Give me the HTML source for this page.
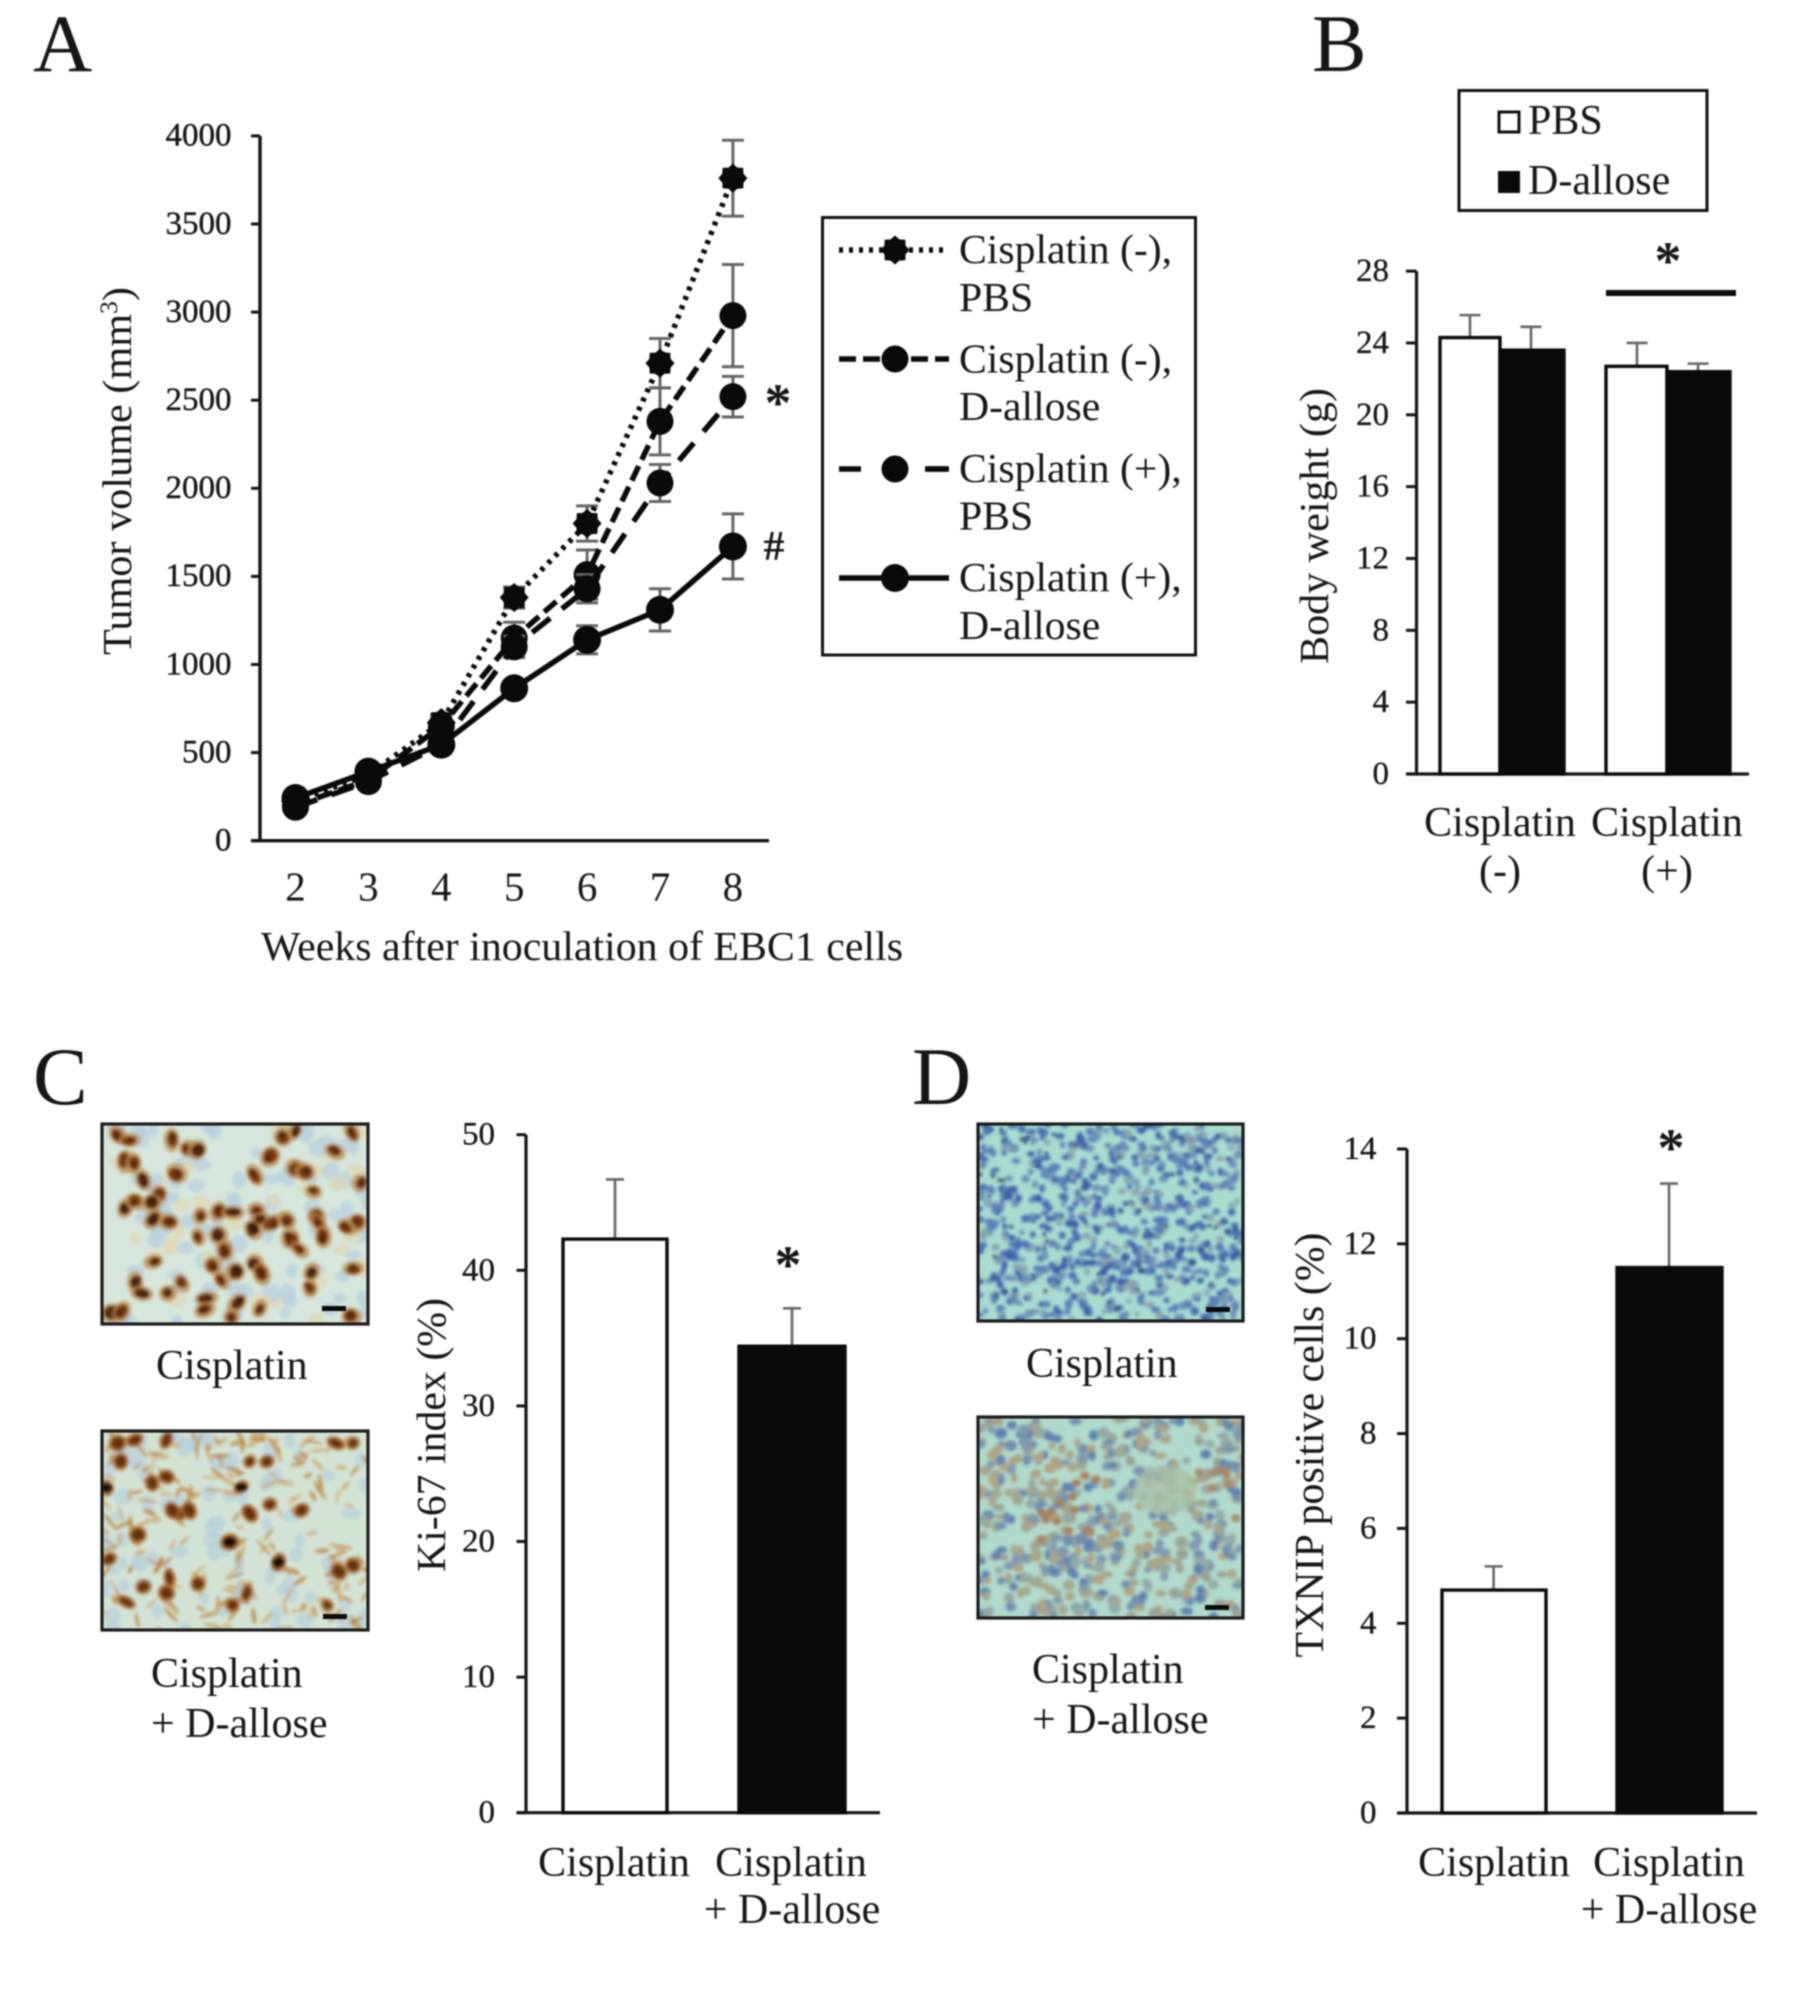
<!DOCTYPE html>
<html lang="en">
<head>
<meta charset="utf-8">
<title>Tumor volume, body weight, Ki-67 and TXNIP figure</title>
<style>
html,body{margin:0;padding:0;background:#fff;}
#figure{display:block;filter:blur(0.7px);font-family:"Liberation Serif",serif;fill:#161616;}
</style>
</head>
<body>
<svg id="figure" xmlns="http://www.w3.org/2000/svg" width="1809" height="1998" viewBox="0 0 1809 1998">
<defs>
<filter id="soft" x="-5%" y="-5%" width="110%" height="110%"><feGaussianBlur stdDeviation="1.7"/></filter>
<clipPath id="clip-c1"><rect x="102" y="1124" width="266" height="200"/></clipPath>
<clipPath id="clip-c2"><rect x="102" y="1431" width="266" height="199"/></clipPath>
<clipPath id="clip-d1"><rect x="978" y="1124" width="265" height="197"/></clipPath>
<clipPath id="clip-d2"><rect x="978" y="1417" width="265" height="201"/></clipPath>
</defs>

<!-- Panel letters -->
<text x="33" y="71" font-size="82">A</text>
<text x="1312" y="71" font-size="82">B</text>
<text x="33" y="1104" font-size="82">C</text>
<text x="912" y="1104" font-size="82">D</text>

<!-- Panel A -->
<g id="panel-a"></g>
<text transform="translate(131 471) rotate(-90)" text-anchor="middle" font-size="41" textLength="368" lengthAdjust="spacingAndGlyphs">Tumor volume (mm<tspan font-size="25" dy="-14">3</tspan><tspan dy="14">)</tspan></text>
<text x="261" y="960" font-size="41.5" textLength="642" lengthAdjust="spacingAndGlyphs">Weeks after inoculation of EBC1 cells</text>
<text x="778" y="421" text-anchor="middle" font-size="54" font-weight="bold">*</text>
<text x="774" y="560" text-anchor="middle" font-size="42" font-weight="bold">#</text>

<!-- Legend A -->
<g>
<rect x="822.5" y="217.5" width="373" height="437.5" fill="#fff" stroke="#111" stroke-width="3"/>
<g id="legend-a-keys"></g>
<g font-size="41.7">
<text x="959" y="263">Cisplatin (-),</text>
<text x="959" y="311">PBS</text>
<text x="959" y="372.5">Cisplatin (-),</text>
<text x="959" y="420">D-allose</text>
<text x="959" y="482">Cisplatin (+),</text>
<text x="959" y="529.5">PBS</text>
<text x="959" y="591">Cisplatin (+),</text>
<text x="959" y="639">D-allose</text>
</g>
</g>

<!-- Panel B -->
<g>
<rect x="1459" y="90.5" width="248" height="120" fill="#fff" stroke="#111" stroke-width="3"/>
<rect x="1499" y="112" width="20" height="20" fill="#fff" stroke="#111" stroke-width="3"/>
<rect x="1498" y="171" width="22" height="22" fill="#0a0a0a"/>
<text x="1528" y="134" font-size="42">PBS</text>
<text x="1528" y="194" font-size="42">D-allose</text>
</g>
<g id="panel-b"></g>
<text transform="translate(1328 526) rotate(-90)" text-anchor="middle" font-size="41.5" textLength="276" lengthAdjust="spacingAndGlyphs">Body weight (g)</text>
<rect x="1606" y="290" width="130" height="6" fill="#0a0a0a"/>
<text x="1668" y="279" text-anchor="middle" font-size="54" font-weight="bold">*</text>
<g font-size="42" text-anchor="middle">
<text x="1500" y="836">Cisplatin</text>
<text x="1500" y="884.5">(-)</text>
<text x="1667" y="836">Cisplatin</text>
<text x="1667" y="884.5">(+)</text>
</g>

<!-- Panel C micrographs -->
<g id="img-c1"></g>
<g id="img-c2"></g>
<text x="156" y="1379" font-size="42">Cisplatin</text>
<text x="151" y="1687" font-size="42">Cisplatin</text>
<text x="151" y="1737" font-size="42">+ D-allose</text>

<!-- Panel C chart -->
<g id="panel-c"></g>
<text transform="translate(445 1435) rotate(-90)" text-anchor="middle" font-size="41.5" textLength="274" lengthAdjust="spacingAndGlyphs">Ki-67 index (%)</text>
<text x="788" y="1283" text-anchor="middle" font-size="54" font-weight="bold">*</text>
<g font-size="42" text-anchor="middle">
<text x="614" y="1876">Cisplatin</text>
<text x="791" y="1876">Cisplatin</text>
<text x="792" y="1923">+ D-allose</text>
</g>

<!-- Panel D micrographs -->
<g id="img-d1"></g>
<g id="img-d2"></g>
<text x="1026" y="1377" font-size="42">Cisplatin</text>
<text x="1032" y="1683" font-size="42">Cisplatin</text>
<text x="1032" y="1733" font-size="42">+ D-allose</text>

<!-- Panel D chart -->
<g id="panel-d"></g>
<text transform="translate(1323 1445) rotate(-90)" text-anchor="middle" font-size="41.5" textLength="425" lengthAdjust="spacingAndGlyphs">TXNIP positive cells (%)</text>
<text x="1671" y="1166" text-anchor="middle" font-size="54" font-weight="bold">*</text>
<g font-size="42" text-anchor="middle">
<text x="1494" y="1876">Cisplatin</text>
<text x="1669" y="1876">Cisplatin</text>
<text x="1669" y="1923">+ D-allose</text>
</g>
</svg>

<script>
// ---------- Panel A data ----------
var weeks = [2, 3, 4, 5, 6, 7, 8];
var volumeTicks = [0, 500, 1000, 1500, 2000, 2500, 3000, 3500, 4000];
var cisMinusPbs = [225, 375, 670, 1380, 1800, 2710, 3760];
var cisMinusPbsErr = [20, 30, 45, 60, 100, 140, 215];
var cisMinusAllose = [200, 345, 650, 1150, 1510, 2380, 2980];
var cisMinusAlloseErr = [20, 30, 50, 90, 140, 190, 290];
var cisPlusPbs = [190, 335, 545, 1100, 1430, 2030, 2520];
var cisPlusPbsErr = [20, 25, 40, 60, 80, 105, 115];
var cisPlusAllose = [242, 392, 545, 865, 1140, 1310, 1670];
var cisPlusAlloseErr = [20, 25, 35, 40, 80, 120, 185];

// ---------- Panel B data ----------
var weightTicks = [0, 4, 8, 12, 16, 20, 24, 28];
var weightValues = [24.3, 23.6, 22.7, 22.4];
var weightErrors = [1.25, 1.3, 1.3, 0.45];

// ---------- Panel C data ----------
var ki67Ticks = [0, 10, 20, 30, 40, 50];
var ki67Values = [42.3, 34.4];
var ki67Errors = [4.4, 2.8];

// ---------- Panel D data ----------
var txnipTicks = [0, 2, 4, 6, 8, 10, 12, 14];
var txnipValues = [4.7, 11.5];
var txnipErrors = [0.5, 1.77];

var SVGNS = 'http://www.w3.org/2000/svg';
function mk(parent, tag) {
  var el = document.createElementNS(SVGNS, tag);
  parent.appendChild(el);
  return el;
}
function seg(parent, x1, y1, x2, y2, color, width, dash) {
  var l = mk(parent, 'line');
  l.setAttribute('x1', x1);
  l.setAttribute('y1', y1);
  l.setAttribute('x2', x2);
  l.setAttribute('y2', y2);
  l.setAttribute('stroke', color);
  l.setAttribute('stroke-width', width);
  if (dash) l.setAttribute('stroke-dasharray', dash);
  return l;
}
function label(parent, x, y, str, size, anchor) {
  var t = mk(parent, 'text');
  t.setAttribute('x', x);
  t.setAttribute('y', y);
  t.setAttribute('font-size', size);
  t.setAttribute('text-anchor', anchor);
  t.textContent = str;
  return t;
}
var AXIS = '#141414', ERR = '#666', INK = '#0a0a0a';

// ---------- Panel A axes ----------
function xA(w) { return 295.5 + (w - 2) * 72.9; }
function yA(v) { return 840.7 - v * 0.1762; }

var pa = document.getElementById('panel-a');
var axisAY = seg(pa, 260, yA(4000), 260, 840.7, AXIS, 3.4);


var axisAX = seg(pa, 251, 840.7, 769, 840.7, AXIS, 3.4);


volumeTicks.forEach(function (v) {
  var tick = seg(pa, 251, yA(v), 260, yA(v), AXIS, 3);
  
  
  var tl = label(pa, 231.5, yA(v) + 9.8, String(v), 33, 'end');
  tl.setAttribute('stroke', '#161616');
  tl.setAttribute('stroke-width', '0.4');
  
  
});
weeks.forEach(function (w) {
  var tl = label(pa, xA(w), 900.5, String(w), 41, 'middle');
  
  
});

function starPoints(cx, cy) {
  var pts = [];
  for (var i = 0; i < 16; i++) {
    var r = i % 2 ? 11.5 : 14.5;
    var a = i * Math.PI / 8;
    pts.push((cx + r * Math.cos(a)).toFixed(1) + ',' + (cy + r * Math.sin(a)).toFixed(1));
  }
  return pts.join(' ');
}
function drawMarker(parent, kind, cx, cy) {
  var m;
  if (kind === 'star') {
    m = mk(parent, 'polygon');
    m.setAttribute('points', starPoints(cx, cy));
  } else {
    m = mk(parent, 'circle');
    m.setAttribute('cx', cx);
    m.setAttribute('cy', cy);
    m.setAttribute('r', kind === 'large' ? 14 : 13.5);
  }
  m.setAttribute('fill', INK);
  return m;
}

var seriesList = [
  { vals: cisMinusPbs, errs: cisMinusPbsErr, dash: '4 6', kind: 'star' },
  { vals: cisMinusAllose, errs: cisMinusAlloseErr, dash: '16 7', kind: 'circle' },
  { vals: cisPlusPbs, errs: cisPlusPbsErr, dash: '23 15', kind: 'circle' },
  { vals: cisPlusAllose, errs: cisPlusAlloseErr, dash: '', kind: 'large' }
];

seriesList.forEach(function (s) {
  var g = mk(pa, 'g');
  
  
  s.vals.forEach(function (v, i) {
    var x = xA(weeks[i]);
    var stem = seg(g, x, yA(v + s.errs[i]), x, yA(v - s.errs[i]), ERR, 3);
    
    
    var capHi = seg(g, x - 11, yA(v + s.errs[i]), x + 11, yA(v + s.errs[i]), ERR, 3);
    
    
    var capLo = seg(g, x - 11, yA(v - s.errs[i]), x + 11, yA(v - s.errs[i]), ERR, 3);
    
    
  });
  var path = mk(g, 'polyline');
  path.setAttribute('points', s.vals.map(function (v, i) { return xA(weeks[i]) + ',' + yA(v); }).join(' '));
  path.setAttribute('fill', 'none');
  path.setAttribute('stroke', INK);
  path.setAttribute('stroke-width', 5.5);
  if (s.dash) path.setAttribute('stroke-dasharray', s.dash);
  
  
  s.vals.forEach(function (v, i) {
    var mark = drawMarker(g, s.kind, xA(weeks[i]), yA(v));
    
    
  });
});

// Legend A keys
var legendKeys = document.getElementById('legend-a-keys');
var legendRows = [250, 359, 469, 578];
seriesList.forEach(function (s, i) {
  var y = legendRows[i];
  var keyLine = seg(legendKeys, 839, y, 949, y, INK, 5.5, i === 0 ? '4 6' : i === 1 ? '17 7' : i === 2 ? '22 66' : '');
  
  
  if (i === 2) {
    var keyTail = seg(legendKeys, 925, y, 947, y, INK, 5.5);
    
    
  }
  var keyMark = drawMarker(legendKeys, s.kind, 895, y);
  
  
});

// ---------- Bar panels ----------
function drawBar(parent, x0, x1, yFn, v, err, dark, errX, capW) {
  var stemTop = yFn(v + err);
  var stem = seg(parent, errX, stemTop, errX, yFn(v), ERR, 2.6);
  
  
  var cap = seg(parent, errX - capW / 2, stemTop, errX + capW / 2, stemTop, ERR, 2.6);
  
  
  var r = mk(parent, 'rect');
  r.setAttribute('x', x0);
  r.setAttribute('y', yFn(v));
  r.setAttribute('width', x1 - x0);
  r.setAttribute('height', yFn(0) - yFn(v));
  r.setAttribute('fill', dark ? INK : '#fff');
  r.setAttribute('stroke', INK);
  r.setAttribute('stroke-width', 3.4);
  return r;
}
function drawAxes(parent, axisX, tickX, endX, yFn, ticks, labelX) {
  var top = yFn(ticks[ticks.length - 1]);
  var yLine = seg(parent, axisX, top, axisX, yFn(0), AXIS, 3.2);
  
  
  var xLine = seg(parent, tickX, yFn(0), endX, yFn(0), AXIS, 3.2);
  
  
  ticks.forEach(function (v) {
    var tick = seg(parent, tickX, yFn(v), axisX, yFn(v), AXIS, 3);
    
    
    var tl = label(parent, labelX, yFn(v) + 10, String(v), 33, 'end');
    tl.setAttribute('stroke', '#161616');
    tl.setAttribute('stroke-width', '0.3');
    
    
  });
}

// Panel B
function yB(v) { return 774 - v * 17.96; }
var barEdgesB = [[1440, 1500], [1500, 1564], [1606, 1667], [1667, 1730]];
var errXB = [1470, 1531, 1637, 1698];
var pb = document.getElementById('panel-b');
drawAxes(pb, 1416.5, 1406, 1749, yB, weightTicks, 1389);
weightValues.forEach(function (v, i) {
  var bar = drawBar(pb, barEdgesB[i][0], barEdgesB[i][1], yB, v, weightErrors[i], i % 2 === 1, errXB[i], 21);
  
  
});

// Panel C
function yC(v) { return 1812.7 - v * 13.56; }
var barEdgesC = [[563, 667], [739, 845]];
var errXC = [615, 792];
var pc = document.getElementById('panel-c');
drawAxes(pc, 526, 516.5, 880, yC, ki67Ticks, 495);
ki67Values.forEach(function (v, i) {
  var bar = drawBar(pc, barEdgesC[i][0], barEdgesC[i][1], yC, v, ki67Errors[i], i === 1, errXC[i], 18);
  
  
});

// Panel D
function yD(v) { return 1813 - v * 47.43; }
var barEdgesD = [[1442, 1546], [1617, 1722]];
var errXD = [1493.6, 1669];
var pd = document.getElementById('panel-d');
drawAxes(pd, 1407, 1397, 1757, yD, txnipTicks, 1376.5);
txnipValues.forEach(function (v, i) {
  var bar = drawBar(pd, barEdgesD[i][0], barEdgesD[i][1], yD, v, txnipErrors[i], i === 1, errXD[i], 18);
  
  
});

// ---------- Micrograph textures (decorative) ----------
function rng(seed) {
  var s = seed;
  return function () { s = (s * 1664525 + 1013904223) % 4294967296; return s / 4294967296; };
}
function blob(g, cx, cy, rx, ry, color, rot, op) {
  var e = mk(g, 'ellipse');
  e.setAttribute('cx', cx.toFixed(1));
  e.setAttribute('cy', cy.toFixed(1));
  e.setAttribute('rx', rx.toFixed(1));
  e.setAttribute('ry', ry.toFixed(1));
  e.setAttribute('fill', color);
  if (op) e.setAttribute('fill-opacity', op);
  if (rot) e.setAttribute('transform', 'rotate(' + rot.toFixed(0) + ' ' + cx.toFixed(1) + ' ' + cy.toFixed(1) + ')');
}
function frame(holderId, clipId, x, y, w, h, bg, barX, barY, paint) {
  var holder = document.getElementById(holderId);
  var clip = mk(holder, 'g');
  clip.setAttribute('clip-path', 'url(#' + clipId + ')');
  var base = mk(clip, 'rect');
  base.setAttribute('x', x);
  base.setAttribute('y', y);
  base.setAttribute('width', w);
  base.setAttribute('height', h);
  base.setAttribute('fill', bg);
  var g = mk(clip, 'g');
  g.setAttribute('filter', 'url(#soft)');
  paint(g);
  var bar = mk(holder, 'rect');
  bar.setAttribute('x', barX);
  bar.setAttribute('y', barY);
  bar.setAttribute('width', 24);
  bar.setAttribute('height', 5);
  bar.setAttribute('fill', '#0a0a0a');
  
  
  var border = mk(holder, 'rect');
  border.setAttribute('x', x);
  border.setAttribute('y', y);
  border.setAttribute('width', w);
  border.setAttribute('height', h);
  border.setAttribute('fill', 'none');
  border.setAttribute('stroke', '#1a1a1a');
  border.setAttribute('stroke-width', 3.2);
}

var nucleiC1 = [[85,45],[120,60],[245,60],[295,85],[320,90],[540,110],[580,50],[615,30],[735,95],[785,35],[615,145],[645,155],[495,165],[105,125],[130,130],[160,180],[260,160],[205,225],[185,250],[105,265],[135,245],[190,298],[235,305],[330,288],[385,275],[430,278],[500,270],[510,300],[545,310],[590,300],[680,290],[685,310],[800,310],[770,320],[325,350],[385,345],[405,390],[490,330],[600,355],[630,390],[700,350],[190,425],[370,435],[435,455],[395,480],[495,430],[515,462],[790,445],[135,485],[275,490],[235,520],[155,520],[350,535],[345,570],[440,550],[510,565],[65,580],[95,575],[425,590],[785,590],[810,190],[670,215],[665,455],[660,505]];
var nucleiC2 = [[205,660],[235,655],[290,655],[465,690],[435,690],[585,660],[615,660],[210,690],[265,725],[290,715],[185,733],[420,732],[315,775],[300,770],[330,770],[470,760],[435,775],[400,822],[485,855],[240,810],[295,880],[290,905],[345,890],[405,925],[430,905],[615,860],[590,870],[190,850],[220,920],[250,895],[525,770],[570,925]];
var darkC2 = [[420,732],[400,822],[485,855],[185,733]];

frame('img-c1', 'clip-c1', 102, 1124, 266, 200, '#d6e6dc', 322, 1306, function (g) {
  var r = rng(11), i;
  for (i = 0; i < 120; i++) blob(g, 102 + r() * 266, 1124 + r() * 200, 5 + r() * 5, 5 + r() * 5, r() < 0.7 ? '#b6cfde' : '#dfd7b2', 0, 0.7);
  nucleiC1.forEach(function (p) {
    var cx = 90 + p[0] / 3, cy = 1120 + p[1] / 3;
    var rx = 5 + r() * 3, ry = 4 + r() * 3, rot = r() * 180;
    blob(g, cx, cy, rx + 4, ry + 3, '#bb8a4c', rot, 0.75);
    blob(g, cx + r() * 3 - 1.5, cy + r() * 3 - 1.5, rx, ry, r() < 0.35 ? '#3d1a08' : '#79380f', rot);
    blob(g, cx + r() * 6 - 3, cy + r() * 6 - 3, rx * 0.6, ry * 0.6, '#5a2609', rot);
  });
});
frame('img-c2', 'clip-c2', 102, 1431, 266, 199, '#d2e3d6', 323, 1614, function (g) {
  var r = rng(23), i;
  for (i = 0; i < 80; i++) blob(g, 102 + r() * 266, 1431 + r() * 199, 5 + r() * 5, 5 + r() * 5, '#b7d0da', 0, 0.7);
  for (i = 0; i < 200; i++) blob(g, 102 + r() * 266, 1431 + r() * 199, 4 + r() * 7, 1.2 + r() * 1.4, r() < 0.5 ? '#cda56c' : '#bd8745', r() * 180, 0.8);
  nucleiC2.forEach(function (p) {
    var cx = p[0] / 1.742, cy = 1040 + p[1] / 1.637;
    var rx = 4 + r() * 3.5, ry = 3.5 + r() * 3, rot = r() * 180;
    blob(g, cx, cy, rx + 3, ry + 2.5, '#a96a2e', rot, 0.85);
    blob(g, cx, cy, rx, ry, '#68300f', rot);
  });
  darkC2.forEach(function (p) {
    blob(g, p[0] / 1.742, 1040 + p[1] / 1.637, 6.5, 4.5, '#120a06');
  });
});
frame('img-d1', 'clip-d1', 978, 1124, 265, 197, '#a9dccf', 1206, 1307, function (g) {
  var r = rng(37), i, cols = ['#4a6fb3', '#5b80ba', '#3d5fa6', '#6e90b8', '#88a5b0'];
  for (i = 0; i < 800; i++) {
    blob(g, 978 + r() * 265, 1124 + r() * 197, 2.6 + r() * 2.2, 2.4 + r() * 2, cols[Math.floor(r() * 5)]);
  }
  for (i = 0; i < 45; i++) blob(g, 978 + r() * 265, 1124 + r() * 197, 1.8, 1.8, '#1e2c52');
});
frame('img-d2', 'clip-d2', 978, 1417, 265, 201, '#b0dacb', 1205, 1605, function (g) {
  var r = rng(53), i, cols = ['#7f98ad', '#93a9a6', '#a3a58e', '#6f8db0', '#a9a68a', '#5f82b0', '#9aa294', '#b0a37f'];
  for (i = 0; i < 560; i++) {
    blob(g, 978 + r() * 265, 1417 + r() * 201, 3.4 + r() * 3, 3.2 + r() * 2.6, cols[Math.floor(r() * 8)]);
  }
  for (i = 0; i < 14; i++) blob(g, 1040 + r() * 60, 1470 + r() * 70, 4.5, 4, '#a5815a');
  for (i = 0; i < 8; i++) blob(g, 1195 + r() * 45, 1470 + r() * 50, 4.5, 4, '#a78a63');
  blob(g, 1165, 1490, 32, 25, '#a9bfa9', 0, 0.8);
});
</script>
</body>
</html>
